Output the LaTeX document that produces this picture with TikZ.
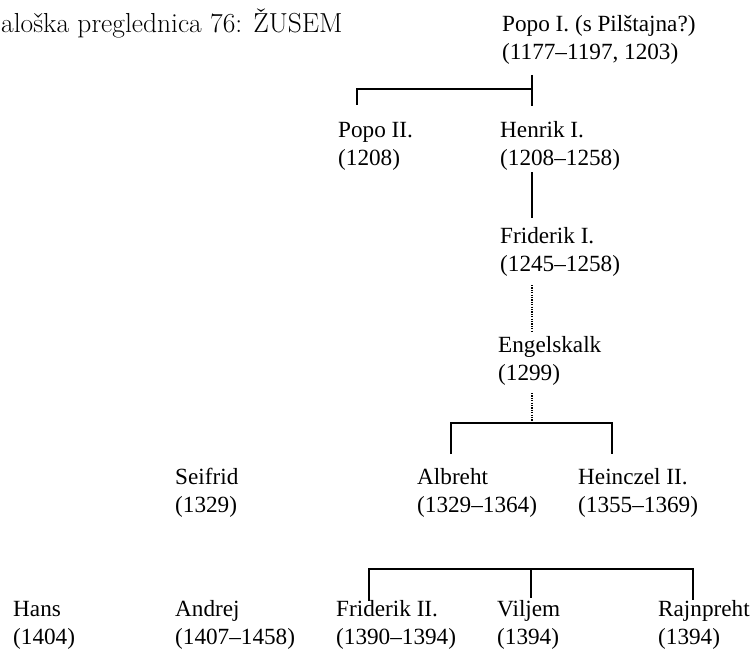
\documentclass[tikz,border=0pt]{standalone}
\usepackage{fontspec}
\usepackage{tikz}
\newfontfamily\tablefont{Liberation Serif}

\begin{document}
\begin{tikzpicture}[
      x=1pt, y=-1pt,
      person/.style = {anchor=base west, inner sep=0pt, align=left,
        font=\tablefont\fontsize{23.2pt}{28pt}\selectfont},
      heading/.style = {anchor=base west, inner sep=0pt,
        font=\fontsize{27.5pt}{32pt}\selectfont},
      link/.style = {line width=1.6pt, draw=black},
      dotlink/.style = {line width=1.3pt, draw=black, dash pattern=on 1.2pt off 1.2pt}
    ]
    \useasboundingbox (0,0) rectangle (751,650);
    \node (T) [heading] at (1,33) {aloška preglednica 76: ŽUSEM};
    \node (A) [person] at (502,60) {Popo I. (s Pilštajna?)\\(1177–1197, 1203)};
    \node (B) [person] at (338,165) {Popo II.\\(1208)};
    \node (C) [person] at (500,165) {Henrik I.\\(1208–1258)};
    \node (D) [person] at (500,271) {Friderik I.\\(1245–1258)};
    \node (E) [person] at (498,380) {Engelskalk\\(1299)};
    \node (F) [person] at (175,512) {Seifrid\\(1329)};
    \node (G) [person] at (417,512) {Albreht\\(1329–1364)};
    \node (H) [person] at (578,512) {Heinczel II.\\(1355–1369)};
    \node (I) [person] at (13,644) {Hans\\(1404)};
    \node (J) [person] at (175,644) {Andrej\\(1407–1458)};
    \node (K) [person] at (336,644) {Friderik II.\\(1390–1394)};
    \node (L) [person] at (497,644) {Viljem\\(1394)};
    \node (M) [person] at (658,644) {Rajnpreht\\(1394)};
    \coordinate (A-down) at (532,75);
    \coordinate (AB) at (532,89);
    \coordinate (B-up) at (357,105);
    \coordinate (C-up) at (532,106);
    \coordinate (C-down) at (532,172);
    \coordinate (D-up) at (532,218);
    \coordinate (D-down) at (532,285);
    \coordinate (E-up) at (532,332);
    \coordinate (E-down) at (532,393);
    \coordinate (GH) at (532,423);
    \coordinate (G-up) at (451,454);
    \coordinate (H-up) at (612,454);
    \coordinate (KM) at (531,569);
    \coordinate (K-up) at (369,601);
    \coordinate (L-up) at (531,598);
    \coordinate (M-up) at (693,600);
    \draw [link] (A-down) -- (C-up);
    \draw [link] (AB) -| (B-up);
    \draw [link] (C-down) -- (D-up);
    \draw [dotlink] (D-down) -- (E-up);
    \draw [dotlink] (E-down) -- (GH);
    \draw [link] (G-up) |- (GH) -| (H-up);
    \draw [link] (K-up) |- (KM) -| (M-up);
    \draw [link] (KM) -- (L-up);
  \end{tikzpicture}
\end{document}
